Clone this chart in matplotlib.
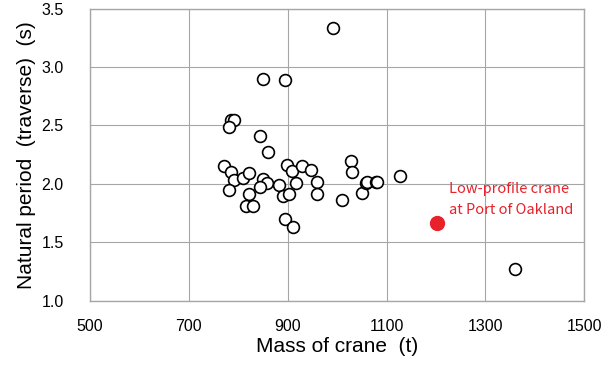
import matplotlib
matplotlib.use("Agg")
import matplotlib.pyplot as plt

plt.rcParams['font.family'] = ['Liberation Sans', 'DejaVu Sans']

# other cranes: mass (t), natural period (s)
mass = [992, 850, 895, 786, 791, 782, 843, 860,
        771, 786, 791, 809, 821, 782, 850, 859, 843, 821, 816, 829,
        883, 899, 909, 929, 947, 917, 890, 902, 895, 911, 960, 960,
        1028, 1030, 1010, 1051, 1058, 1061, 1078, 1081, 1127, 1360]
period = [3.33, 2.90, 2.89, 2.55, 2.55, 2.49, 2.41, 2.27,
          2.15, 2.10, 2.03, 2.05, 2.09, 1.95, 2.04, 2.01, 1.97, 1.91, 1.81, 1.81,
          1.99, 2.16, 2.11, 2.15, 2.12, 2.01, 1.90, 1.91, 1.70, 1.63, 2.02, 1.91,
          2.20, 2.10, 1.86, 1.92, 2.01, 2.02, 2.02, 2.02, 2.07, 1.27]

# low-profile crane at Port of Oakland
oak_mass = [1203]
oak_period = [1.665]
oak_label = "Low-profile crane\nat Port of Oakland"

xticks = [500, 700, 900, 1100, 1300, 1500]
yticks = [1.0, 1.5, 2.0, 2.5, 3.0, 3.5]

fig = plt.figure(figsize=(6.13, 3.71), dpi=100)
ax = fig.add_axes([0.147, 0.189, 0.806, 0.788])

ax.plot(mass, period, 'o', mfc='white', mec='black', ms=8.5, mew=1.2, zorder=3)
ax.plot(oak_mass, oak_period, 'o', color='#e8212a', ms=10, zorder=3)
ax.text(oak_mass[0] + 23, oak_period[0] + 0.20, oak_label, color='#e8212a',
        fontsize=10.5, linespacing=1.6, va='center', ha='left',
        family=['Noto Sans CJK JP', 'DejaVu Sans'])

ax.set_xlim(500, 1500)
ax.set_ylim(1.0, 3.5)
ax.set_xticks(xticks)
ax.set_yticks(yticks)
ax.set_yticklabels(['%.1f' % v for v in yticks])
ax.tick_params(length=0, labelsize=11.5)
ax.tick_params(axis='x', pad=13)
ax.tick_params(axis='y', pad=19)
ax.grid(True, color='#a6a6a6', linewidth=0.8)
ax.set_axisbelow(True)
for s in ax.spines.values():
    s.set_color('#a6a6a6')
    s.set_linewidth(1.0)

ax.set_xlabel('Mass of crane  (t)', fontsize=15, labelpad=2)
ax.set_ylabel('Natural period  (traverse)  (s)', fontsize=15, labelpad=4)

fig.savefig('out.png', dpi=100)
